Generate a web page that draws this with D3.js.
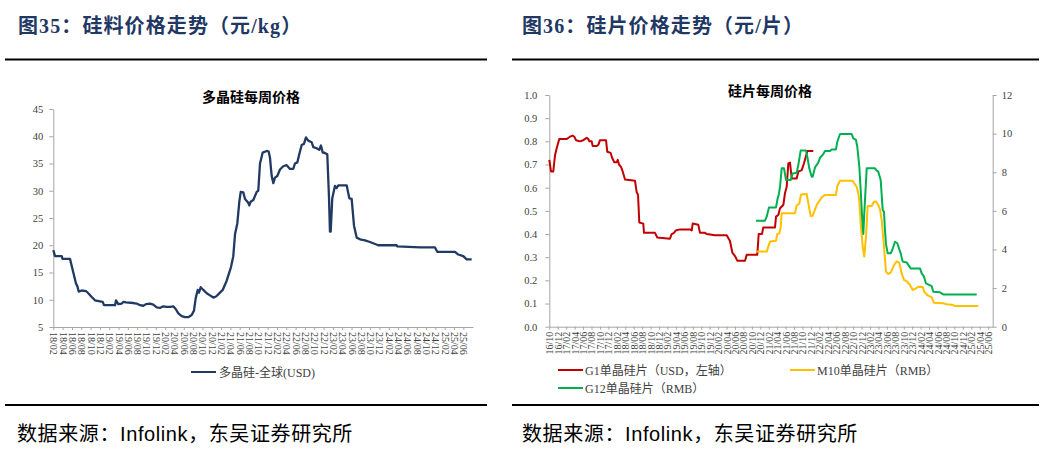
<!DOCTYPE html>
<html><head><meta charset="utf-8">
<script src="https://cdn.jsdelivr.net/npm/d3@7"></script>
<style>
html,body{margin:0;padding:0;background:#fff;}
svg{display:block;}
</style></head><body>
<svg id="c" width="1044" height="460"></svg>
<script>
// ---------------- DATA ----------------
// Left: polysilicon weekly price (USD/kg), time in decimal years
const polyTime = [2018.083,2018.114,2018.234,2018.248,2018.382,2018.441,2018.489,2018.513,2018.538,2018.591,
2018.668,2018.709,2018.770,2018.829,2018.918,2018.967,2018.990,2019.188,2019.205,2019.246,
2019.307,2019.335,2019.384,2019.514,2019.575,2019.634,2019.693,2019.741,2019.813,2019.872,
2019.932,2019.991,2020.050,2020.111,2020.170,2020.229,2020.272,2020.319,2020.380,2020.439,
2020.497,2020.558,2020.599,2020.630,2020.666,2020.689,2020.719,2020.766,2020.827,2020.886,
2020.945,2020.993,2021.034,2021.113,2021.184,2021.261,2021.302,2021.333,2021.374,2021.410,
2021.435,2021.481,2021.512,2021.570,2021.588,2021.613,2021.660,2021.721,2021.749,2021.780,
2021.828,2021.900,2021.935,2021.959,2021.989,2022.018,2022.048,2022.089,2022.137,2022.196,
2022.257,2022.316,2022.375,2022.405,2022.447,2022.482,2022.525,2022.566,2022.602,2022.643,
2022.704,2022.733,2022.793,2022.840,2022.870,2022.901,2022.924,2022.983,2023.013,2023.031,
2023.044,2023.072,2023.121,2023.151,2023.180,2023.330,2023.377,2023.419,2023.461,2023.509,
2023.568,2023.658,2023.747,2023.895,2024.224,2024.235,2024.641,2024.909,2024.950,2025.267,
2025.325,2025.415,2025.476,2025.565];
const polyPrice = [19.1,18.0,18.0,17.5,17.5,15,13,12.5,11.5,11.7,
11.6,11.2,10.5,9.9,9.7,9.6,9.0,9.0,9.9,9.2,
9.3,9.6,9.5,9.4,9.3,9.0,8.9,9.2,9.3,9.1,
8.6,8.5,8.8,8.7,8.7,8.8,8.3,7.5,7.0,6.8,
6.8,7.2,8.0,10.3,11.8,11.3,12.3,11.8,11.2,10.8,
10.4,10.6,11.0,11.8,13.5,16,18,22,24,28,
29.8,29.7,28.5,27.8,27.3,28,28.3,29.8,30,35,
37,37.3,37.2,36,32.7,31.4,32.4,32.7,33.9,34.5,
34.7,34,34,35,35.2,36.7,38.4,38.6,39.8,39.2,
38.9,38,37.8,37.5,38.3,37,37,36.7,29,22.5,
22.5,28.6,30.9,30.5,31,31,28.6,28.5,23.6,21.4,
21.1,20.9,20.6,20.0,20.0,19.8,19.6,19.6,18.8,18.8,
18.3,18.0,17.4,17.4];
const leftYTicks = [5,10,15,20,25,30,35,40,45];
const leftXLabels = ["18/02","18/04","18/06","18/08","18/10","18/12","19/02","19/04","19/06","19/08","19/10","19/12",
"20/02","20/04","20/06","20/08","20/10","20/12","21/02","21/04","21/06","21/08","21/10","21/12",
"22/02","22/04","22/06","22/08","22/10","22/12","23/02","23/04","23/06","23/08","23/10","23/12",
"24/02","24/04","24/06","24/08","24/10","24/12","25/02","25/04","25/06"];

// Right: wafer weekly prices
const g1Time = [2016.750,2016.784,2016.829,2016.863,2016.896,2016.947,2017.094,2017.159,2017.212,2017.244,
2017.277,2017.356,2017.421,2017.489,2017.520,2017.540,2017.587,2017.607,2017.686,2017.718,
2017.751,2017.870,2017.895,2017.962,2017.988,2018.034,2018.081,2018.101,2018.126,2018.166,
2018.199,2018.245,2018.442,2018.476,2018.502,2018.527,2018.606,2018.620,2018.837,2018.883,
2019.133,2019.167,2019.212,2019.246,2019.331,2019.528,2019.562,2019.582,2019.692,2019.726,
2019.825,2019.858,2020.022,2020.253,2020.318,2020.364,2020.417,2020.462,2020.615,2020.648,
2020.857,2020.885,2020.950,2020.976,2021.207,2021.227,2021.272,2021.306,2021.371,2021.404,
2021.438,2021.470,2021.503,2021.537,2021.635,2021.667,2021.734,2021.780,2021.833,2021.845,2021.963];
const g1Price = [0.72,0.67,0.67,0.74,0.77,0.81,0.81,0.82,0.825,0.82,
0.805,0.80,0.805,0.815,0.81,0.80,0.80,0.78,0.78,0.785,
0.805,0.805,0.755,0.75,0.73,0.71,0.71,0.72,0.70,0.69,
0.67,0.635,0.63,0.58,0.57,0.45,0.445,0.405,0.405,0.385,
0.38,0.40,0.405,0.415,0.42,0.42,0.415,0.445,0.44,0.405,
0.405,0.40,0.395,0.395,0.37,0.32,0.305,0.285,0.285,0.31,
0.31,0.40,0.40,0.428,0.428,0.475,0.482,0.511,0.525,0.576,
0.604,0.705,0.708,0.64,0.64,0.669,0.676,0.705,0.748,0.758,0.758];

const m10Time = [2020.846,2021.043,2021.075,2021.108,2021.227,2021.252,2021.292,2021.320,2021.339,2021.602,
2021.635,2021.687,2021.720,2021.833,2021.865,2021.912,2021.951,2022.030,2022.129,2022.194,
2022.411,2022.437,2022.491,2022.741,2022.767,2022.820,2022.852,2022.872,2022.899,2022.939,
2022.970,2023.004,2023.037,2023.116,2023.162,2023.201,2023.247,2023.280,2023.314,2023.359,
2023.399,2023.444,2023.492,2023.557,2023.610,2023.662,2023.709,2023.754,2023.819,2023.873,
2023.926,2023.991,2024.037,2024.124,2024.155,2024.214,2024.301,2024.347,2024.530,2024.598,
2024.728,2024.761,2025.222];
const m10Price = [3.89,3.89,4.15,4.41,4.45,4.8,4.83,5.18,5.87,5.87,
6.29,6.37,6.85,6.87,6.4,5.73,5.75,6.3,6.7,6.82,
6.82,7.29,7.56,7.56,7.45,7.25,6.9,6.53,5.35,4.14,
3.63,4.66,6.25,6.25,6.47,6.48,6.3,6.08,5.52,4.14,
2.85,2.73,2.8,3.19,3.38,3.3,2.76,2.42,2.33,2.16,
1.9,1.99,2.07,2.05,1.81,1.64,1.52,1.24,1.21,1.16,
1.12,1.07,1.07];

const g12Time = [2020.832,2021.009,2021.043,2021.088,2021.227,2021.256,2021.286,2021.306,2021.339,2021.385,
2021.424,2021.517,2021.556,2021.635,2021.667,2021.714,2021.819,2021.845,2021.884,2021.932,
2021.951,2021.997,2022.062,2022.096,2022.161,2022.194,2022.293,2022.327,2022.411,2022.437,
2022.491,2022.722,2022.753,2022.806,2022.832,2022.872,2022.899,2022.931,2022.951,2022.970,
2023.018,2023.182,2023.215,2023.247,2023.294,2023.334,2023.359,2023.379,2023.399,2023.432,
2023.492,2023.523,2023.576,2023.622,2023.689,2023.729,2023.808,2023.839,2023.887,2024.070,
2024.104,2024.149,2024.189,2024.301,2024.333,2024.465,2024.530,2025.190];
const g12Price = [5.49,5.49,5.70,6.18,6.18,6.6,6.9,7.25,8.2,8.2,
7.6,7.6,7.94,7.97,8.37,9.12,9.12,8.8,8.2,7.77,
7.77,8.25,8.5,8.75,8.94,9.1,9.1,9.18,9.18,9.58,
9.98,9.98,9.75,9.67,9.32,8.29,7.08,5.52,4.8,5.87,
8.2,8.2,8.08,8.03,7.6,6.04,5.96,5.0,4.28,3.8,
3.8,3.97,4.4,4.32,3.8,3.37,3.33,3.2,3.02,3.02,
2.76,2.59,2.24,2.1,1.81,1.78,1.67,1.67];

const rightYTicksL = [0,0.1,0.2,0.3,0.4,0.5,0.6,0.7,0.8,0.9,1.0];
const rightYTicksR = [0,2,4,6,8,10,12];
const rightXLabels = ["16/10","16/12","17/02","17/04","17/06","17/08","17/10","17/12",
"18/02","18/04","18/06","18/08","18/10","18/12","19/02","19/04","19/06","19/08","19/10","19/12",
"20/02","20/04","20/06","20/08","20/10","20/12","21/02","21/04","21/06","21/08","21/10","21/12",
"22/02","22/04","22/06","22/08","22/10","22/12","23/02","23/04","23/06","23/08","23/10","23/12",
"24/02","24/04","24/06","24/08","24/10","24/12","25/02","25/04","25/06"];

const seriesNames = ["G1单晶硅片（USD，左轴）","M10单晶硅片（RMB）","G12单晶硅片（RMB）"];
const polyName = "多晶硅-全球(USD)";

// ---------------- DRAWING ----------------
const svg = d3.select("#c");
const CJK = "'Noto Sans CJK SC', sans-serif";
const SERIF = "'Liberation Serif', 'Noto Sans CJK SC', serif";
const SANS = "'Liberation Sans', 'Noto Sans CJK SC', sans-serif";
const AXIS = "#a6a6a6", TXT = "#404040";
const labelVal = s => 2000 + (+s.slice(0,2)) + ((+s.slice(3)) - 1) / 12;

// headers / rules / footers
[[18,"图35：硅料价格走势（元/kg）"],[522,"图36：硅片价格走势（元/片）"]].forEach(([x,t])=>{
  svg.append("text").attr("x",x).attr("y",33).text(t)
    .style("font-family","'Liberation Serif','Noto Sans CJK SC',serif").style("font-weight","bold")
    .style("font-size","20px").style("letter-spacing","1.1px").style("fill","#1f3864");
});
[[5,487],[512,1039]].forEach(([a,b])=>{
  [59.5,405].forEach(y=>svg.append("line").attr("x1",a).attr("x2",b).attr("y1",y).attr("y2",y)
    .attr("stroke","#000").attr("stroke-width",2));
});
[17,522].forEach(x=>{
  svg.append("text").attr("x",x).attr("y",441).text("数据来源：Infolink，东吴证券研究所")
    .style("font-family",SANS).style("font-size","20px").style("letter-spacing","0.6px").style("fill","#000");
});

function styleAxis(g){
  g.select(".domain").attr("stroke",AXIS);
  g.selectAll(".tick line").attr("stroke",AXIS);
  g.selectAll(".tick text").style("fill",TXT).style("font-family",SERIF);
}

// ---- Left chart ----
const xL = d3.scaleLinear().domain([2018.0833, 2025.589]).range([53.3, 473]);
const yL = d3.scaleLinear().domain([5,45]).range([327,109]);

svg.append("text").attr("x",251).attr("y",102).attr("text-anchor","middle").text("多晶硅每周价格")
  .style("font-family",CJK).style("font-weight","bold").style("font-size","14px").style("fill","#000");

svg.append("g").attr("transform","translate(53.3,0)")
  .call(d3.axisLeft(yL).tickValues(leftYTicks).tickSize(4).tickPadding(6).tickSizeOuter(0))
  .call(styleAxis).call(g=>g.selectAll(".tick text").style("font-size","10.5px"));

svg.append("g").attr("transform","translate(0,327)")
  .call(d3.axisBottom(xL).tickValues(leftXLabels.map(labelVal)).tickSize(3).tickSizeOuter(0)
    .tickFormat((d,i)=>leftXLabels[i]))
  .call(styleAxis)
  .call(g=>g.selectAll(".tick text").attr("transform","rotate(90)").attr("x",5).attr("y",0)
    .attr("dy","0.35em").style("text-anchor","start").style("font-size","10px"));

svg.append("path").datum(polyTime.map((t,i)=>[t,polyPrice[i]]))
  .attr("d",d3.line().x(d=>xL(d[0])).y(d=>yL(d[1])))
  .attr("fill","none").attr("stroke","#203a63").attr("stroke-width",2.3).attr("stroke-linejoin","round");

svg.append("line").attr("x1",191).attr("x2",216).attr("y1",372).attr("y2",372)
  .attr("stroke","#203a63").attr("stroke-width",2);
svg.append("text").attr("x",219).attr("y",376.5).text(polyName)
  .style("font-family",SERIF).style("font-size","12px").style("fill",TXT);

// ---- Right chart ----
const xR = d3.scaleLinear().domain([2016.75, 2025.506]).range([549.3, 992.7]);
const yRL = d3.scaleLinear().domain([0,1]).range([326.7,95]);
const yRR = d3.scaleLinear().domain([0,12]).range([326.7,95]);

svg.append("text").attr("x",770).attr("y",96).attr("text-anchor","middle").text("硅片每周价格")
  .style("font-family",CJK).style("font-weight","bold").style("font-size","14px").style("fill","#000");

svg.append("g").attr("transform","translate(549.3,0)")
  .call(d3.axisLeft(yRL).tickValues(rightYTicksL).tickSize(4).tickPadding(8).tickSizeOuter(0)
    .tickFormat(d3.format(".1f")))
  .call(styleAxis).call(g=>g.selectAll(".tick text").style("font-size","10.5px"));

svg.append("g").attr("transform","translate(992.7,0)")
  .call(d3.axisRight(yRR).tickValues(rightYTicksR).tickSize(4).tickPadding(5).tickSizeOuter(0))
  .call(styleAxis).call(g=>g.selectAll(".tick text").style("font-size","10.5px"));

svg.append("g").attr("transform","translate(0,326.7)")
  .call(d3.axisBottom(xR).tickValues(rightXLabels.map(labelVal)).tickSize(3).tickSizeOuter(0)
    .tickFormat((d,i)=>rightXLabels[i]))
  .call(styleAxis)
  .call(g=>g.selectAll(".tick text").attr("transform","rotate(-90)").attr("x",-5).attr("y",0)
    .attr("dy","0.35em").style("text-anchor","end").style("font-size","10px"));

const colors = ["#c00000","#ffc000","#00b050"];
const rSeries = [
  {t:g1Time, v:g1Price, y:yRL, c:colors[0]},
  {t:m10Time, v:m10Price, y:yRR, c:colors[1]},
  {t:g12Time, v:g12Price, y:yRR, c:colors[2]}
];
rSeries.forEach(s=>{
  svg.append("path").datum(s.t.map((t,i)=>[t,s.v[i]]))
    .attr("d",d3.line().x(d=>xR(d[0])).y(d=>s.y(d[1])))
    .attr("fill","none").attr("stroke",s.c).attr("stroke-width",2).attr("stroke-linejoin","round");
});

// right legend
const legPos = [[558,370,colors[0],seriesNames[0]],[790,370,colors[1],seriesNames[1]],[558,388,colors[2],seriesNames[2]]];
legPos.forEach(([x,y,c,t])=>{
  svg.append("line").attr("x1",x).attr("x2",x+25).attr("y1",y).attr("y2",y).attr("stroke",c).attr("stroke-width",2);
  svg.append("text").attr("x",x+27).attr("y",y+4.5).text(t)
    .style("font-family",SERIF).style("font-size","12px").style("fill",TXT);
});
</script></body></html>
